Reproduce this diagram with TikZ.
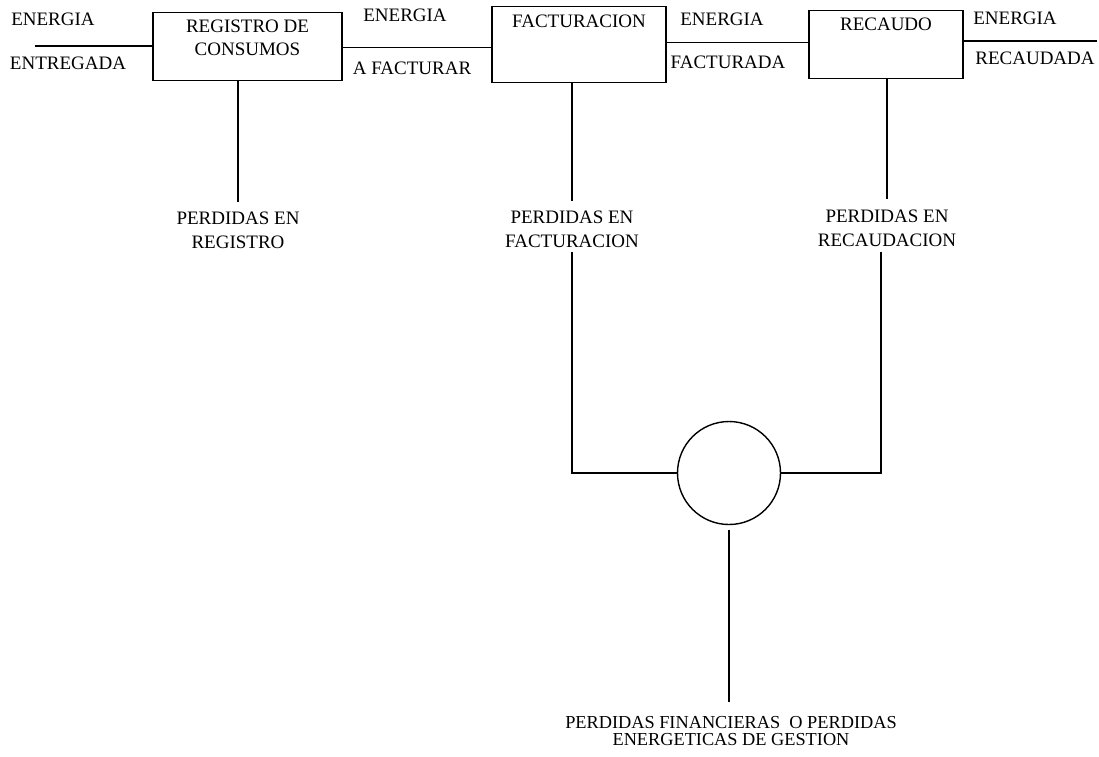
\documentclass[tikz,border=0pt]{standalone}
\usepackage{fontspec}
\setmainfont{Liberation Serif}
\usepackage{tikz}
\usetikzlibrary{positioning,calc}

\begin{document}
\begin{tikzpicture}
        [
    x=1pt, y=-1pt,
    line width=1.4pt,
    basic/.style={draw, line width=1.4pt},
    caja/.style={basic, align=center, anchor=north, inner sep=6pt,
        font=\fontsize{19}{23}\selectfont},
    circ/.style={basic, circle, minimum size=103pt, inner sep=0pt},
    texto/.style={align=center, inner sep=0pt, font=\fontsize{19}{24}\selectfont},
    textop/.style={align=center, inner sep=0pt, font=\fontsize{18.3}{16.5}\selectfont}
    ]
    \useasboundingbox (0,0) rectangle (1099,756);

    % Bloques del proceso
    \node [caja, minimum width=189pt, text height=36.5pt, text depth=19.5pt] (reg) at (247.5,12) {REGISTRO DE\\CONSUMOS};
    \node [caja, minimum width=174pt, text height=14.5pt, text depth=49.5pt] (fac) at (579,6) {FACTURACION};
    \node [caja, minimum width=154pt, text height=13.5pt, text depth=42.5pt] (rec) at (886,10) {RECAUDO};
    % Flujo de energia
    \coordinate (ent) at (35,46);
    \coordinate (sal) at (1097,41);
    \draw (ent) -- (ent -| reg.west);
    \draw ([yshift=-1pt]reg.east) -- ([yshift=-1pt]reg.east -| fac.west);
    \draw ([yshift=2pt]fac.east) -- ([yshift=2pt]fac.east -| rec.west);
    \draw (rec.east |- sal) -- (sal);
    % Textos de energia
    \node [texto] (e1) at (53,19) {ENERGIA};
    \node [texto] (e1b) at (68,63) {ENTREGADA};
    \node [texto] (e2) at (405,15) {ENERGIA};
    \node [texto] (e2b) at (412,68) {A FACTURAR};
    \node [texto] (e3) at (722,19) {ENERGIA};
    \node [texto] (e3b) at (728,62) {FACTURADA};
    \node [texto] (e4) at (1015,18) {ENERGIA};
    \node [texto] (e4b) at (1035,58) {RECAUDADA};
    % Perdidas de cada etapa
    \node [texto] (pr) at (238,230.5) {PERDIDAS EN\\REGISTRO};
    \node [texto] (pf) at (572,229) {PERDIDAS EN\\FACTURACION};
    \node [texto] (pc) at (887,228.5) {PERDIDAS EN\\RECAUDACION};
    \draw (pr.north |- reg.south) -- ([yshift=9pt]pr.north);
    \draw (pf.north |- fac.south) -- ([yshift=9pt]pf.north);
    \draw (pc.north |- rec.south) -- ([yshift=10pt]pc.north);
    % Suma de perdidas
    \node [circ] (suma) at (729,473) {};
    \coordinate [below left=4pt and 6pt of pc.south] (cq);
    \draw ([yshift=-4pt]pf.south) |- (suma.west);
    \draw (cq) |- (suma.east);
    \node [textop] (pfin) at (731,731) {PERDIDAS FINANCIERAS\ \ O PERDIDAS\\ENERGETICAS DE GESTION};
    \draw ([yshift=-5pt]suma.south) -- ([yshift=14pt]suma.south |- pfin.north);
\end{tikzpicture}
\end{document}
